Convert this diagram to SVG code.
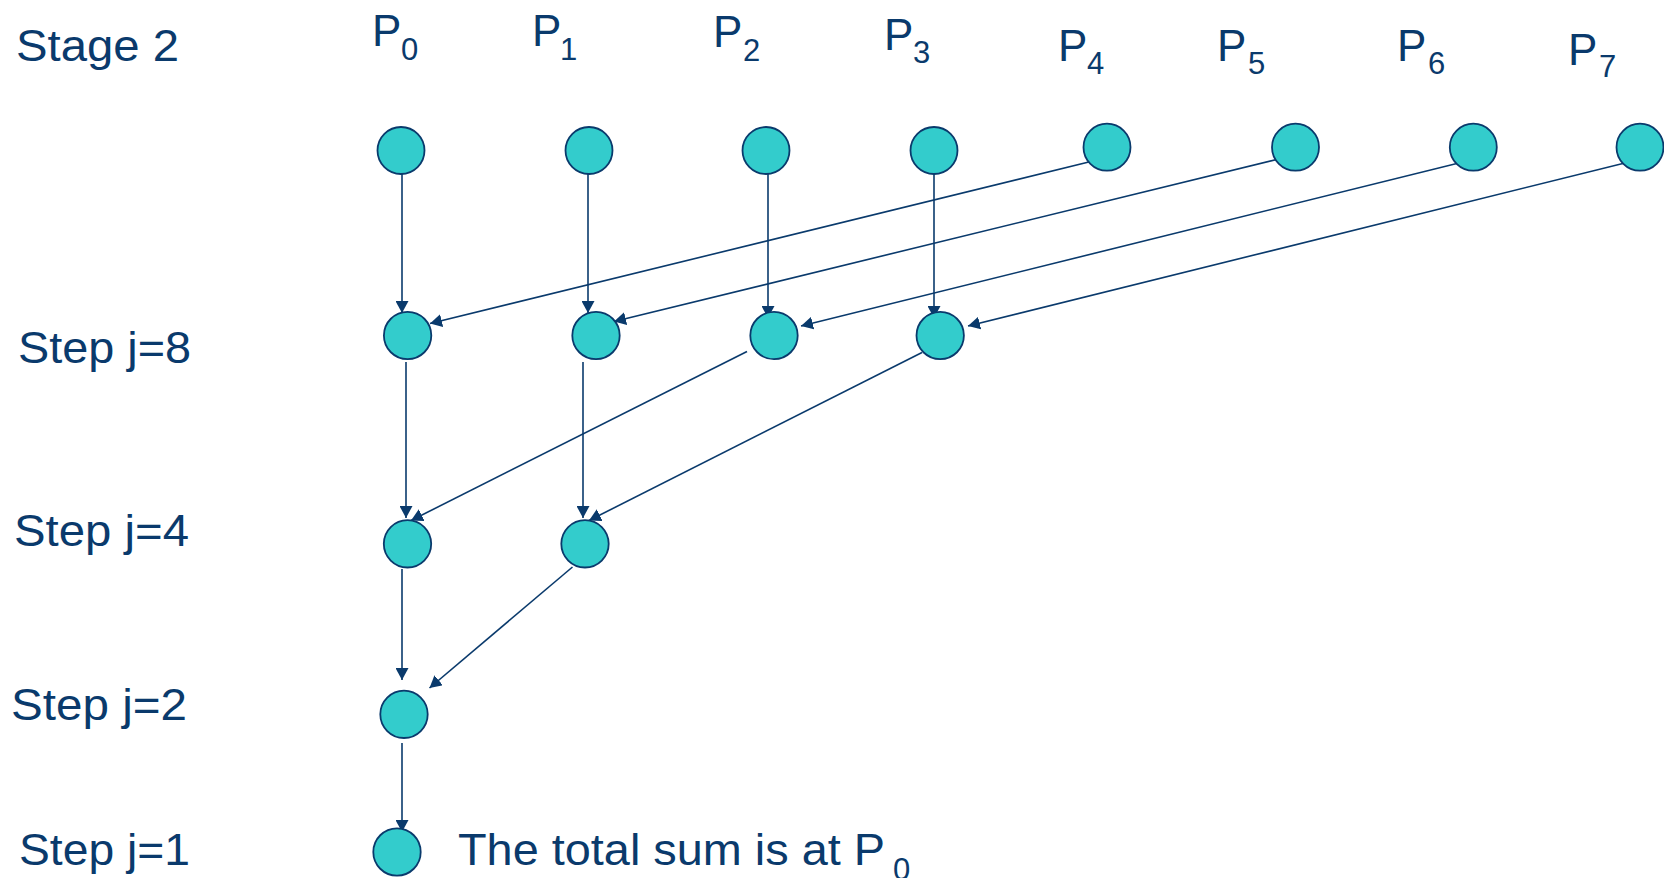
<svg xmlns="http://www.w3.org/2000/svg" width="1664" height="878" viewBox="0 0 1664 878">
<style>
  .t { font-family: "Liberation Sans", Arial, sans-serif; fill: #0a3a6c; }
  .lbl { font-size: 45px; }
  .p { font-size: 44px; }
  .s { font-size: 31px; }
  .node { fill: #33cccc; stroke: #0a3a6c; stroke-width: 1.8; }
  .edge { fill: none; stroke: #0a3a6c; stroke-width: 1.6; marker-end: url(#arr); }
</style>
<defs>
  <marker id="arr" markerUnits="userSpaceOnUse" markerWidth="13" markerHeight="13" refX="12" refY="6.5" orient="auto">
    <path d="M0,0 L12,6.5 L0,13 z" fill="#0a3a6c"/>
  </marker>
</defs>
<rect width="1664" height="878" fill="#ffffff"/>

<g id="labels">
  <text class="t lbl" x="16" y="61" textLength="163" lengthAdjust="spacingAndGlyphs">Stage 2</text>
  <text class="t lbl" x="18" y="363" textLength="173" lengthAdjust="spacingAndGlyphs">Step j=8</text>
  <text class="t lbl" x="14" y="546" textLength="175" lengthAdjust="spacingAndGlyphs">Step j=4</text>
  <text class="t lbl" x="11" y="720" textLength="176" lengthAdjust="spacingAndGlyphs">Step j=2</text>
  <text class="t lbl" x="19" y="865" textLength="171" lengthAdjust="spacingAndGlyphs">Step j=1</text>
  <text class="t lbl" x="458" y="865" textLength="427" lengthAdjust="spacingAndGlyphs">The total sum is at P</text>
  <text class="t s" x="893" y="880">0</text>
</g>

<g id="plabels">
  <text class="t p" x="372" y="46">P<tspan class="s" x="401" y="60">0</tspan></text>
  <text class="t p" x="532" y="46">P<tspan class="s" x="560" y="60">1</tspan></text>
  <text class="t p" x="713" y="47">P<tspan class="s" x="743" y="61">2</tspan></text>
  <text class="t p" x="884" y="50">P<tspan class="s" x="913" y="63">3</tspan></text>
  <text class="t p" x="1058" y="61">P<tspan class="s" x="1087" y="74">4</tspan></text>
  <text class="t p" x="1217" y="61">P<tspan class="s" x="1248" y="74">5</tspan></text>
  <text class="t p" x="1397" y="61">P<tspan class="s" x="1428" y="74">6</tspan></text>
  <text class="t p" x="1568" y="65">P<tspan class="s" x="1599" y="77">7</tspan></text>
</g>

<g id="connectors">
  <line class="edge" x1="402" y1="174" x2="402" y2="313"/>
  <line class="edge" x1="588" y1="174" x2="588" y2="313"/>
  <line class="edge" x1="768" y1="174" x2="768" y2="318"/>
  <line class="edge" x1="934" y1="174" x2="934" y2="318"/>
  <line class="edge" x1="1101" y1="159" x2="430" y2="323.5"/>
  <line class="edge" x1="1287" y1="157" x2="614" y2="321.5"/>
  <line class="edge" x1="1475" y1="159" x2="801" y2="326"/>
  <line class="edge" x1="1641" y1="159" x2="968" y2="326"/>
  <line class="edge" x1="406" y1="362" x2="406" y2="518"/>
  <line class="edge" x1="583" y1="362" x2="583" y2="518"/>
  <line class="edge" x1="747" y1="351.5" x2="411" y2="520.5"/>
  <line class="edge" x1="922" y1="352.5" x2="589" y2="520.5"/>
  <line class="edge" x1="402" y1="569" x2="402" y2="680"/>
  <line class="edge" x1="572.5" y1="567" x2="429.5" y2="688"/>
  <line class="edge" x1="402" y1="743" x2="402" y2="832"/>
</g>

<g id="n-p0"><circle class="node" cx="401" cy="150.5" r="23.5"/></g>
<g id="n-p1"><circle class="node" cx="589" cy="150.5" r="23.5"/></g>
<g id="n-p2"><circle class="node" cx="766" cy="150.5" r="23.5"/></g>
<g id="n-p3"><circle class="node" cx="934" cy="150.5" r="23.5"/></g>
<g id="n-p4"><circle class="node" cx="1107" cy="147.2" r="23.5"/></g>
<g id="n-p5"><circle class="node" cx="1295.5" cy="147.2" r="23.5"/></g>
<g id="n-p6"><circle class="node" cx="1473.3" cy="147.2" r="23.5"/></g>
<g id="n-p7"><circle class="node" cx="1640" cy="147.2" r="23.5"/></g>

<g id="n-j8-0"><circle class="node" cx="407.6" cy="335.5" r="23.7"/></g>
<g id="n-j8-1"><circle class="node" cx="596" cy="335.5" r="23.7"/></g>
<g id="n-j8-2"><circle class="node" cx="774" cy="335.5" r="23.7"/></g>
<g id="n-j8-3"><circle class="node" cx="940.2" cy="335.5" r="23.7"/></g>

<g id="n-j4-0"><circle class="node" cx="407.5" cy="543.8" r="23.7"/></g>
<g id="n-j4-1"><circle class="node" cx="585" cy="543.8" r="23.7"/></g>

<g id="n-j2-0"><circle class="node" cx="404" cy="714.3" r="23.7"/></g>

<g id="n-j1-0"><circle class="node" cx="397" cy="852" r="23.7"/></g>
</svg>
